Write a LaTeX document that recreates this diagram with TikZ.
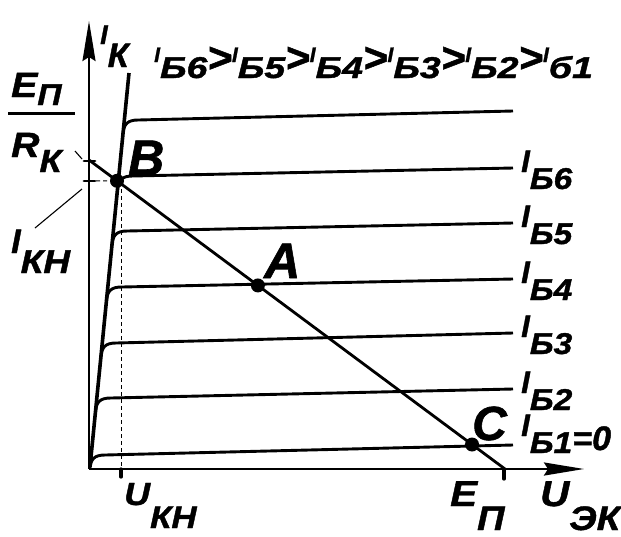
\documentclass[tikz,border=0pt]{standalone}
\usepackage{fontspec}
\setmainfont{Liberation Sans}[BoldItalicFeatures={FakeBold=1.2}]
\usetikzlibrary{arrows.meta,calc}
\newcommand\fs[1]{\fontsize{#1}{#1}\selectfont}
\newcommand\sx[1]{\scalebox{1.12}[1]{#1}}
\newcommand\rlab[1]{{\fs{31}I}\raisebox{-17pt}{\fs{30}\sx{#1}}}
\newcommand\tg[1]{\raisebox{16pt}{\fs{21}I}{\fs{30}\scalebox{1.25}[1]{#1}}}
\newcommand\gt{\raisebox{6pt}{\fs{42}>}}
\begin{document}
\begin{tikzpicture}[x=1pt,y=-1pt,
  txt/.style={inner sep=0pt,anchor=base west,font=\bfseries\itshape},
  axisline/.style={line width=2.4pt,-{Stealth[length=40pt,width=13pt,inset=4pt]}},
  curve/.style={line width=2.9pt},
  loadline/.style={line width=2.8pt},
  dashline/.style={line width=1pt,dash pattern=on 4pt off 3pt},
  leader/.style={line width=1.1pt},
  tick/.style={line width=3.2pt,line cap=round},
  dot/.style={circle,fill=black,inner sep=0pt,minimum size=14pt}]
\useasboundingbox (0,0) rectangle (621,536);
% axes
\coordinate (O) at (89,469);
\coordinate (Ytop) at (89,21);
\coordinate (Xtop) at (584,469);
\draw[axisline] (O) -- (Ytop);
\draw[axisline] (O) -- (Xtop);
% saturation line
\coordinate (S0) at (90,467);
\coordinate (S1) at (129,73);
\draw[line width=3.6pt] (S0) -- (S1);
% output characteristics
\foreach \yl/\yr in {120/111,176/168,231/223,287/279,343/333,398/389,455/445}{
  \pgfmathsetmacro\xs{90+(467-\yl)*0.099}
  \draw[curve] ({\xs-1.4},{\yl+14}) .. controls ({\xs-0.4},{\yl+4}) and ({\xs+3},{\yl}) .. ({\xs+14},{\yl}) -- (513,\yr);
}
% load line
\coordinate (L0) at (89,160);
\coordinate (LE) at (505,469);
\draw[loadline] (L0) -- (LE);
\coordinate (B) at ($(L0)!0.0673!(LE)$);
\coordinate (A) at ($(L0)!0.406!(LE)$);
\coordinate (C) at ($(L0)!0.9207!(LE)$);
% dashed projections
\coordinate (BY) at (89,180.8);
\coordinate (UD) at (121,182);
\coordinate (UB) at (121,469);
\coordinate (UT) at (121,477);
\draw[dashline] (BY) -- (B);
\draw[dashline] (UD) -- (UB);
\draw[tick] (UB) -- (UT);
\coordinate (EB) at (504,469);
\coordinate (ET) at (504,479);
\draw[tick] (EB) -- (ET);
% ticks on vertical axis
\coordinate (T1a) at (84,161); \coordinate (T1b) at (95,161);
\coordinate (T2a) at (84,181); \coordinate (T2b) at (95,181);
\draw[tick,line width=2.8pt] (T1a) -- (T1b);
\draw[tick,line width=2.8pt] (T2a) -- (T2b);
% leaders
\coordinate (La1) at (75,151); \coordinate (La2) at (82,159);
\coordinate (Lb1) at (35,228); \coordinate (Lb2) at (82,189);
\draw[leader] (La1) -- (La2);
\draw[leader] (Lb1) -- (Lb2);
% dots
\node[dot] (dB) at (B) {};
\node[dot] (dA) at (A) {};
\node[dot] (dC) at (C) {};
% point labels
\node[txt] (lB) at (128,175) {\fs{50}B};
\node[txt] (lA) at (264,278) {\fs{50}A};
\node[txt] (lC) at (472,440) {\fs{48}C};
% axis labels
\node[txt] (lIK) at (100,44) {{\fs{27}I}\raisebox{-23pt}{\fs{34}К}};
\node[txt] (lE1) at (11,97) {{\fs{35}\sx{E}}\raisebox{-8pt}{\fs{30}\sx{П}}};
\draw[line width=3pt] (8,113) -- (75,113);
\node[txt] (lR) at (11,157) {{\fs{35}\sx{R}}\raisebox{-15pt}{\fs{32}\sx{К}}};
\node[txt] (lIKH) at (11,253) {{\fs{34}I}\raisebox{-20pt}{\fs{33}\sx{КН}}};
\node[txt] (lU) at (124,505) {{\fs{32}\sx{U}}\raisebox{-23pt}{\fs{31}\sx{КН}}};
\node[txt] (lEP) at (450,506) {{\fs{36}\sx{E}}\raisebox{-24pt}{\fs{34}\sx{П}}};
\node[txt] (lUE) at (540,506) {{\fs{36}\sx{U}}\raisebox{-24pt}{\fs{34}\sx{ЭК}}};
% right labels
\node[txt] (l6) at (521,172) {\rlab{Б6}};
\node[txt] (l5) at (521,227) {\rlab{Б5}};
\node[txt] (l4) at (521,283) {\rlab{Б4}};
\node[txt] (l3) at (521,337) {\rlab{Б3}};
\node[txt] (l2) at (521,393) {\rlab{Б2}};
\node[txt] (l1) at (521,436) {\rlab{Б1}\raisebox{-14pt}{\fs{34}=0}};
% top inequality
\node[txt] (ineq) at (154,78) {\tg{Б6}\gt\tg{Б5}\gt\tg{Б4}\gt\tg{Б3}\gt\tg{Б2}\gt\tg{б1}};
\end{tikzpicture}
\end{document}
